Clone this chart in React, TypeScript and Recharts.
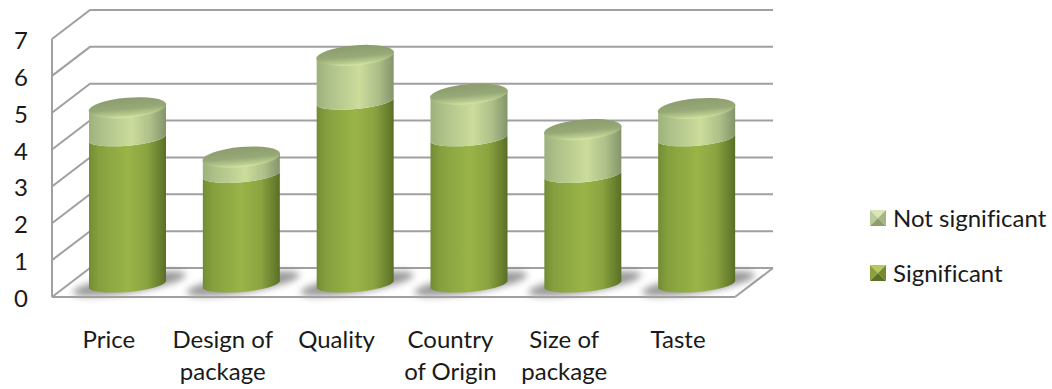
import React from 'react';
import { BarChart, Bar, XAxis, YAxis, CartesianGrid, Legend } from 'recharts';

const categories = ['Price', 'Design of\npackage', 'Quality', 'Country\nof Origin', 'Size of\npackage', 'Taste'];
const significant = [4, 3, 5, 4, 3, 4];
const notSignificant = [0.85, 0.5, 1.28, 1.22, 1.25, 0.83];
const valueTicks = [0, 1, 2, 3, 4, 5, 6, 7];

const data = categories.map((name, i) => ({
  name,
  significant: significant[i],
  notSignificant: notSignificant[i],
}));

const FONT = 'Lato, sans-serif';
const TEXT = '#1a1a1a';
const GRID = '#a0a0a0';

// offset of the back wall from the front of the box
const DEPTH_X = 38;
const DEPTH_Y = 29;
const FLOOR_Y = 297;

// the columns stand partway into the box and read slightly smaller than the axis
const COLUMN_SCALE = 0.992;
const COLUMN_RISE = 12;
const TILT = -5;
const RX = 39;
const ARC_RY = 8;
const LID_RY = 10;
const SKEW = 3.4;

const columnY = (y: number) => FLOOR_Y - (FLOOR_Y - y) * COLUMN_SCALE - COLUMN_RISE;

const WallLine = (props: any) => {
  const { x1, y1, x2, y2 } = props;
  const backY = y1 - DEPTH_Y;
  return (
    <g>
      <polyline
        points={`${x1},${y1} ${x1 + DEPTH_X},${backY} ${x2 + DEPTH_X},${y2 - DEPTH_Y}`}
        fill="none"
        stroke={GRID}
        strokeWidth={2}
      />
      {y1 >= FLOOR_Y - 1 && (
        <line x1={x2} y1={y2} x2={x2 + DEPTH_X} y2={backY} stroke={GRID} strokeWidth={2} />
      )}
    </g>
  );
};

const columnPath = (x: number, top: number, bottom: number, width: number) => {
  const r = x + width;
  return [
    `M${x},${top + SKEW}`,
    `A${RX},${ARC_RY} ${TILT} 0 0 ${r},${top - SKEW}`,
    `L${r},${bottom - SKEW}`,
    `A${RX},${ARC_RY} ${TILT} 0 1 ${x},${bottom + SKEW}`,
    'Z',
  ].join(' ');
};

const LowerColumn = (props: any) => {
  const { x, y, width, height } = props;
  const left = x + DEPTH_X / 2;
  const top = columnY(y);
  const bottom = columnY(y + height);
  const cx = left + width / 2;
  return (
    <g>
      <ellipse
        cx={cx + 2}
        cy={bottom - 1}
        rx={57}
        ry={9}
        fill="#555555"
        opacity={0.6}
        filter="url(#floorShadow)"
        transform={`rotate(-9 ${cx} ${bottom})`}
      />
      <path d={columnPath(left, top, bottom, width)} fill="url(#bodyDark)" />
    </g>
  );
};

const UpperColumn = (props: any) => {
  const { x, y, width, height } = props;
  const left = x + DEPTH_X / 2;
  const top = columnY(y);
  const bottom = columnY(y + height);
  const cx = left + width / 2;
  return (
    <g>
      <path d={columnPath(left, top, bottom, width)} fill="url(#bodyLight)" />
      <ellipse
        cx={cx}
        cy={top}
        rx={RX}
        ry={LID_RY}
        fill="url(#lid)"
        transform={`rotate(${TILT} ${cx} ${top})`}
      />
    </g>
  );
};

const CategoryTick = (props: any) => {
  const { x, payload } = props;
  const lines = String(payload.value).split('\n');
  return (
    <text
      textAnchor="middle"
      fontFamily={FONT}
      fontSize={24}
      fill={TEXT}
      style={{ fontVariantLigatures: 'none' }}
    >
      {lines.map((line, i) => (
        <tspan key={line} x={x} y={348 + i * 32}>
          {line}
        </tspan>
      ))}
    </text>
  );
};

const ValueTick = (props: any) => {
  const { y, payload } = props;
  return (
    <text x={21} y={y + 10} textAnchor="middle" fontFamily={FONT} fontSize={24} fill={TEXT}>
      {payload.value}
    </text>
  );
};

const iconShades: Record<string, string[]> = {
  Significant: ['#b5c95f', '#8ba03f', '#76892f', '#5d6f22'],
  'Not significant': ['#dbe6b8', '#bccb9b', '#a5b583', '#8f9f6c'],
};

const LegendIcon = ({ shades }: { shades: string[] }) => (
  <svg width={16} height={16} style={{ flex: 'none' }}>
    <polygon points="0,0 16,0 8,8" fill={shades[0]} />
    <polygon points="0,0 8,8 0,16" fill={shades[1]} />
    <polygon points="16,0 16,16 8,8" fill={shades[2]} />
    <polygon points="0,16 8,8 16,16" fill={shades[3]} />
  </svg>
);

const LegendList = ({ payload }: any) => (
  <div style={{ fontFamily: FONT, fontSize: 24, color: TEXT, fontVariantLigatures: 'none' }}>
    {(payload ?? []).map((item: any) => (
      <div
        key={item.value}
        style={{ display: 'flex', alignItems: 'center', gap: 7, height: 55, lineHeight: '55px' }}
      >
        <LegendIcon shades={iconShades[item.value]} />
        <span style={{ whiteSpace: 'nowrap' }}>{item.value}</span>
      </div>
    ))}
  </div>
);

export default function App() {
  return (
    <div style={{ position: 'absolute', left: 0, top: 0, width: 1052, height: 389, background: '#fff' }}>
      <BarChart
        width={1052}
        height={389}
        data={data}
        barSize={77}
        margin={{ top: 39, right: 317, bottom: 0, left: 0 }}
      >
        <defs>
          <linearGradient id="bodyDark" x1="0" y1="0" x2="1" y2="0">
            <stop offset="0" stopColor="#728c33" />
            <stop offset="0.12" stopColor="#859f3e" />
            <stop offset="0.5" stopColor="#9ab448" />
            <stop offset="0.75" stopColor="#8ba440" />
            <stop offset="0.95" stopColor="#647a2c" />
            <stop offset="1" stopColor="#596e26" />
          </linearGradient>
          <linearGradient id="bodyLight" x1="0" y1="0" x2="1" y2="0">
            <stop offset="0" stopColor="#9db17b" />
            <stop offset="0.15" stopColor="#adc088" />
            <stop offset="0.55" stopColor="#cbdc9b" />
            <stop offset="0.8" stopColor="#aebf89" />
            <stop offset="1" stopColor="#83946a" />
          </linearGradient>
          <linearGradient id="lid" x1="0" y1="0" x2="0" y2="1">
            <stop offset="0" stopColor="#8c9c6e" />
            <stop offset="0.55" stopColor="#97a977" />
            <stop offset="0.85" stopColor="#b9cc8d" />
            <stop offset="1" stopColor="#d6e6a8" />
          </linearGradient>
          <filter id="floorShadow" x="-30%" y="-80%" width="160%" height="260%">
            <feGaussianBlur stdDeviation="3.5" />
          </filter>
        </defs>
        <CartesianGrid vertical={false} horizontal={WallLine} />
        <XAxis
          dataKey="name"
          height={92}
          interval={0}
          axisLine={{ stroke: GRID, strokeWidth: 2 }}
          tickLine={false}
          tick={CategoryTick}
        />
        <YAxis
          width={52}
          domain={[0, 7]}
          ticks={valueTicks}
          interval={0}
          axisLine={{ stroke: GRID, strokeWidth: 2 }}
          tickLine={false}
          tick={ValueTick}
        />
        <Legend
          layout="vertical"
          align="center"
          verticalAlign="middle"
          content={LegendList}
          wrapperStyle={{ position: 'absolute', left: 870, top: 190, width: 182 }}
        />
        <Bar
          dataKey="significant"
          name="Significant"
          stackId="a"
          fill="#9ab448"
          shape={LowerColumn}
          isAnimationActive={false}
        />
        <Bar
          dataKey="notSignificant"
          name="Not significant"
          stackId="a"
          fill="#cbdc9b"
          shape={UpperColumn}
          isAnimationActive={false}
        />
      </BarChart>
    </div>
  );
}
